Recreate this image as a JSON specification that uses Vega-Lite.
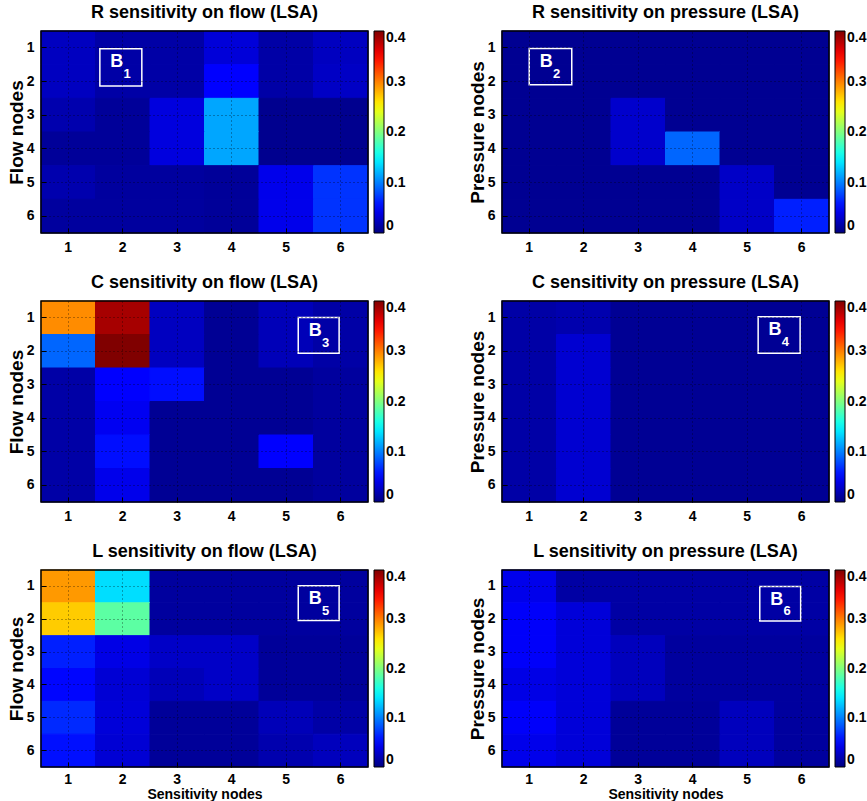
{
  "$schema": "https://vega.github.io/schema/vega-lite/v6.json",
  "padding": {"left": 7, "top": 4, "right": 0, "bottom": 0},
  "background": "white",
  "config": {
    "font": "Liberation Sans",
    "view": {"stroke": null},
    "title": {"fontSize": 18, "fontWeight": "bold", "font": "Liberation Sans", "frame": "group", "offset": 8, "color": "black"},
    "axis": {"labelFont": "Liberation Sans", "labelFontSize": 14, "labelFontWeight": "bold", "labelColor": "black", "titleFont": "Liberation Sans", "titleFontWeight": "bold", "titleColor": "black", "domain": false, "ticks": true, "tickColor": "black", "tickSize": -5, "labelAngle": 0, "grid": true, "gridDash": [1, 3], "gridColor": "black", "gridOpacity": 0.6, "bandPosition": 0.5, "zindex": 1},
    "axisX": {"labelPadding": 12},
    "axisY": {"labelPadding": 12, "titleFontSize": 19, "titlePadding": 0},
    "legend": {"labelFont": "Liberation Sans", "labelFontSize": 14, "labelFontWeight": "bold", "labelColor": "black", "orient": "right", "offset": 6, "gradientThickness": 10, "gradientStrokeColor": "black", "gradientStrokeWidth": 1, "labelOffset": 2, "padding": 0},
    "rect": {"strokeWidth": 1}
  },
  "datasets": {
    "sens": [
      {"panel": "R_flow", "node": 1, "sens": 1, "value": 0.025}, {"panel": "R_flow", "node": 1, "sens": 2, "value": 0.015}, {"panel": "R_flow", "node": 1, "sens": 3, "value": 0.015}, {"panel": "R_flow", "node": 1, "sens": 4, "value": 0.035}, {"panel": "R_flow", "node": 1, "sens": 5, "value": 0.015}, {"panel": "R_flow", "node": 1, "sens": 6, "value": 0.025},
      {"panel": "R_flow", "node": 2, "sens": 1, "value": 0.025}, {"panel": "R_flow", "node": 2, "sens": 2, "value": 0.015}, {"panel": "R_flow", "node": 2, "sens": 3, "value": 0.015}, {"panel": "R_flow", "node": 2, "sens": 4, "value": 0.05}, {"panel": "R_flow", "node": 2, "sens": 5, "value": 0.015}, {"panel": "R_flow", "node": 2, "sens": 6, "value": 0.027},
      {"panel": "R_flow", "node": 3, "sens": 1, "value": 0.018}, {"panel": "R_flow", "node": 3, "sens": 2, "value": 0.01}, {"panel": "R_flow", "node": 3, "sens": 3, "value": 0.037}, {"panel": "R_flow", "node": 3, "sens": 4, "value": 0.115}, {"panel": "R_flow", "node": 3, "sens": 5, "value": 0.006}, {"panel": "R_flow", "node": 3, "sens": 6, "value": 0.006},
      {"panel": "R_flow", "node": 4, "sens": 1, "value": 0.01}, {"panel": "R_flow", "node": 4, "sens": 2, "value": 0.01}, {"panel": "R_flow", "node": 4, "sens": 3, "value": 0.037}, {"panel": "R_flow", "node": 4, "sens": 4, "value": 0.115}, {"panel": "R_flow", "node": 4, "sens": 5, "value": 0.006}, {"panel": "R_flow", "node": 4, "sens": 6, "value": 0.006},
      {"panel": "R_flow", "node": 5, "sens": 1, "value": 0.018}, {"panel": "R_flow", "node": 5, "sens": 2, "value": 0.012}, {"panel": "R_flow", "node": 5, "sens": 3, "value": 0.012}, {"panel": "R_flow", "node": 5, "sens": 4, "value": 0.01}, {"panel": "R_flow", "node": 5, "sens": 5, "value": 0.042}, {"panel": "R_flow", "node": 5, "sens": 6, "value": 0.07},
      {"panel": "R_flow", "node": 6, "sens": 1, "value": 0.012}, {"panel": "R_flow", "node": 6, "sens": 2, "value": 0.012}, {"panel": "R_flow", "node": 6, "sens": 3, "value": 0.012}, {"panel": "R_flow", "node": 6, "sens": 4, "value": 0.01}, {"panel": "R_flow", "node": 6, "sens": 5, "value": 0.042}, {"panel": "R_flow", "node": 6, "sens": 6, "value": 0.07},

      {"panel": "R_pres", "node": 1, "sens": 1, "value": 0.007}, {"panel": "R_pres", "node": 1, "sens": 2, "value": 0.007}, {"panel": "R_pres", "node": 1, "sens": 3, "value": 0.007}, {"panel": "R_pres", "node": 1, "sens": 4, "value": 0.007}, {"panel": "R_pres", "node": 1, "sens": 5, "value": 0.007}, {"panel": "R_pres", "node": 1, "sens": 6, "value": 0.007},
      {"panel": "R_pres", "node": 2, "sens": 1, "value": 0.007}, {"panel": "R_pres", "node": 2, "sens": 2, "value": 0.007}, {"panel": "R_pres", "node": 2, "sens": 3, "value": 0.007}, {"panel": "R_pres", "node": 2, "sens": 4, "value": 0.007}, {"panel": "R_pres", "node": 2, "sens": 5, "value": 0.007}, {"panel": "R_pres", "node": 2, "sens": 6, "value": 0.007},
      {"panel": "R_pres", "node": 3, "sens": 1, "value": 0.007}, {"panel": "R_pres", "node": 3, "sens": 2, "value": 0.007}, {"panel": "R_pres", "node": 3, "sens": 3, "value": 0.03}, {"panel": "R_pres", "node": 3, "sens": 4, "value": 0.007}, {"panel": "R_pres", "node": 3, "sens": 5, "value": 0.007}, {"panel": "R_pres", "node": 3, "sens": 6, "value": 0.007},
      {"panel": "R_pres", "node": 4, "sens": 1, "value": 0.007}, {"panel": "R_pres", "node": 4, "sens": 2, "value": 0.007}, {"panel": "R_pres", "node": 4, "sens": 3, "value": 0.03}, {"panel": "R_pres", "node": 4, "sens": 4, "value": 0.09}, {"panel": "R_pres", "node": 4, "sens": 5, "value": 0.007}, {"panel": "R_pres", "node": 4, "sens": 6, "value": 0.007},
      {"panel": "R_pres", "node": 5, "sens": 1, "value": 0.007}, {"panel": "R_pres", "node": 5, "sens": 2, "value": 0.007}, {"panel": "R_pres", "node": 5, "sens": 3, "value": 0.007}, {"panel": "R_pres", "node": 5, "sens": 4, "value": 0.007}, {"panel": "R_pres", "node": 5, "sens": 5, "value": 0.028}, {"panel": "R_pres", "node": 5, "sens": 6, "value": 0.007},
      {"panel": "R_pres", "node": 6, "sens": 1, "value": 0.007}, {"panel": "R_pres", "node": 6, "sens": 2, "value": 0.007}, {"panel": "R_pres", "node": 6, "sens": 3, "value": 0.007}, {"panel": "R_pres", "node": 6, "sens": 4, "value": 0.007}, {"panel": "R_pres", "node": 6, "sens": 5, "value": 0.028}, {"panel": "R_pres", "node": 6, "sens": 6, "value": 0.062},

      {"panel": "C_flow", "node": 1, "sens": 1, "value": 0.295}, {"panel": "C_flow", "node": 1, "sens": 2, "value": 0.385}, {"panel": "C_flow", "node": 1, "sens": 3, "value": 0.025}, {"panel": "C_flow", "node": 1, "sens": 4, "value": 0.008}, {"panel": "C_flow", "node": 1, "sens": 5, "value": 0.022}, {"panel": "C_flow", "node": 1, "sens": 6, "value": 0.015},
      {"panel": "C_flow", "node": 2, "sens": 1, "value": 0.09}, {"panel": "C_flow", "node": 2, "sens": 2, "value": 0.4}, {"panel": "C_flow", "node": 2, "sens": 3, "value": 0.025}, {"panel": "C_flow", "node": 2, "sens": 4, "value": 0.008}, {"panel": "C_flow", "node": 2, "sens": 5, "value": 0.022}, {"panel": "C_flow", "node": 2, "sens": 6, "value": 0.015},
      {"panel": "C_flow", "node": 3, "sens": 1, "value": 0.015}, {"panel": "C_flow", "node": 3, "sens": 2, "value": 0.05}, {"panel": "C_flow", "node": 3, "sens": 3, "value": 0.055}, {"panel": "C_flow", "node": 3, "sens": 4, "value": 0.008}, {"panel": "C_flow", "node": 3, "sens": 5, "value": 0.008}, {"panel": "C_flow", "node": 3, "sens": 6, "value": 0.012},
      {"panel": "C_flow", "node": 4, "sens": 1, "value": 0.015}, {"panel": "C_flow", "node": 4, "sens": 2, "value": 0.045}, {"panel": "C_flow", "node": 4, "sens": 3, "value": 0.008}, {"panel": "C_flow", "node": 4, "sens": 4, "value": 0.008}, {"panel": "C_flow", "node": 4, "sens": 5, "value": 0.008}, {"panel": "C_flow", "node": 4, "sens": 6, "value": 0.012},
      {"panel": "C_flow", "node": 5, "sens": 1, "value": 0.015}, {"panel": "C_flow", "node": 5, "sens": 2, "value": 0.055}, {"panel": "C_flow", "node": 5, "sens": 3, "value": 0.008}, {"panel": "C_flow", "node": 5, "sens": 4, "value": 0.008}, {"panel": "C_flow", "node": 5, "sens": 5, "value": 0.05}, {"panel": "C_flow", "node": 5, "sens": 6, "value": 0.012},
      {"panel": "C_flow", "node": 6, "sens": 1, "value": 0.015}, {"panel": "C_flow", "node": 6, "sens": 2, "value": 0.042}, {"panel": "C_flow", "node": 6, "sens": 3, "value": 0.008}, {"panel": "C_flow", "node": 6, "sens": 4, "value": 0.008}, {"panel": "C_flow", "node": 6, "sens": 5, "value": 0.008}, {"panel": "C_flow", "node": 6, "sens": 6, "value": 0.012},

      {"panel": "C_pres", "node": 1, "sens": 1, "value": 0.015}, {"panel": "C_pres", "node": 1, "sens": 2, "value": 0.018}, {"panel": "C_pres", "node": 1, "sens": 3, "value": 0.008}, {"panel": "C_pres", "node": 1, "sens": 4, "value": 0.008}, {"panel": "C_pres", "node": 1, "sens": 5, "value": 0.008}, {"panel": "C_pres", "node": 1, "sens": 6, "value": 0.008},
      {"panel": "C_pres", "node": 2, "sens": 1, "value": 0.015}, {"panel": "C_pres", "node": 2, "sens": 2, "value": 0.032}, {"panel": "C_pres", "node": 2, "sens": 3, "value": 0.008}, {"panel": "C_pres", "node": 2, "sens": 4, "value": 0.008}, {"panel": "C_pres", "node": 2, "sens": 5, "value": 0.008}, {"panel": "C_pres", "node": 2, "sens": 6, "value": 0.008},
      {"panel": "C_pres", "node": 3, "sens": 1, "value": 0.015}, {"panel": "C_pres", "node": 3, "sens": 2, "value": 0.032}, {"panel": "C_pres", "node": 3, "sens": 3, "value": 0.008}, {"panel": "C_pres", "node": 3, "sens": 4, "value": 0.008}, {"panel": "C_pres", "node": 3, "sens": 5, "value": 0.008}, {"panel": "C_pres", "node": 3, "sens": 6, "value": 0.008},
      {"panel": "C_pres", "node": 4, "sens": 1, "value": 0.015}, {"panel": "C_pres", "node": 4, "sens": 2, "value": 0.032}, {"panel": "C_pres", "node": 4, "sens": 3, "value": 0.008}, {"panel": "C_pres", "node": 4, "sens": 4, "value": 0.008}, {"panel": "C_pres", "node": 4, "sens": 5, "value": 0.008}, {"panel": "C_pres", "node": 4, "sens": 6, "value": 0.008},
      {"panel": "C_pres", "node": 5, "sens": 1, "value": 0.015}, {"panel": "C_pres", "node": 5, "sens": 2, "value": 0.032}, {"panel": "C_pres", "node": 5, "sens": 3, "value": 0.008}, {"panel": "C_pres", "node": 5, "sens": 4, "value": 0.008}, {"panel": "C_pres", "node": 5, "sens": 5, "value": 0.008}, {"panel": "C_pres", "node": 5, "sens": 6, "value": 0.008},
      {"panel": "C_pres", "node": 6, "sens": 1, "value": 0.015}, {"panel": "C_pres", "node": 6, "sens": 2, "value": 0.032}, {"panel": "C_pres", "node": 6, "sens": 3, "value": 0.008}, {"panel": "C_pres", "node": 6, "sens": 4, "value": 0.008}, {"panel": "C_pres", "node": 6, "sens": 5, "value": 0.008}, {"panel": "C_pres", "node": 6, "sens": 6, "value": 0.008},

      {"panel": "L_flow", "node": 1, "sens": 1, "value": 0.29}, {"panel": "L_flow", "node": 1, "sens": 2, "value": 0.137}, {"panel": "L_flow", "node": 1, "sens": 3, "value": 0.012}, {"panel": "L_flow", "node": 1, "sens": 4, "value": 0.012}, {"panel": "L_flow", "node": 1, "sens": 5, "value": 0.012}, {"panel": "L_flow", "node": 1, "sens": 6, "value": 0.012},
      {"panel": "L_flow", "node": 2, "sens": 1, "value": 0.27}, {"panel": "L_flow", "node": 2, "sens": 2, "value": 0.186}, {"panel": "L_flow", "node": 2, "sens": 3, "value": 0.012}, {"panel": "L_flow", "node": 2, "sens": 4, "value": 0.012}, {"panel": "L_flow", "node": 2, "sens": 5, "value": 0.012}, {"panel": "L_flow", "node": 2, "sens": 6, "value": 0.012},
      {"panel": "L_flow", "node": 3, "sens": 1, "value": 0.062}, {"panel": "L_flow", "node": 3, "sens": 2, "value": 0.04}, {"panel": "L_flow", "node": 3, "sens": 3, "value": 0.028}, {"panel": "L_flow", "node": 3, "sens": 4, "value": 0.028}, {"panel": "L_flow", "node": 3, "sens": 5, "value": 0.01}, {"panel": "L_flow", "node": 3, "sens": 6, "value": 0.01},
      {"panel": "L_flow", "node": 4, "sens": 1, "value": 0.052}, {"panel": "L_flow", "node": 4, "sens": 2, "value": 0.033}, {"panel": "L_flow", "node": 4, "sens": 3, "value": 0.022}, {"panel": "L_flow", "node": 4, "sens": 4, "value": 0.028}, {"panel": "L_flow", "node": 4, "sens": 5, "value": 0.01}, {"panel": "L_flow", "node": 4, "sens": 6, "value": 0.01},
      {"panel": "L_flow", "node": 5, "sens": 1, "value": 0.066}, {"panel": "L_flow", "node": 5, "sens": 2, "value": 0.035}, {"panel": "L_flow", "node": 5, "sens": 3, "value": 0.01}, {"panel": "L_flow", "node": 5, "sens": 4, "value": 0.01}, {"panel": "L_flow", "node": 5, "sens": 5, "value": 0.022}, {"panel": "L_flow", "node": 5, "sens": 6, "value": 0.015},
      {"panel": "L_flow", "node": 6, "sens": 1, "value": 0.056}, {"panel": "L_flow", "node": 6, "sens": 2, "value": 0.033}, {"panel": "L_flow", "node": 6, "sens": 3, "value": 0.01}, {"panel": "L_flow", "node": 6, "sens": 4, "value": 0.01}, {"panel": "L_flow", "node": 6, "sens": 5, "value": 0.018}, {"panel": "L_flow", "node": 6, "sens": 6, "value": 0.024},

      {"panel": "L_pres", "node": 1, "sens": 1, "value": 0.042}, {"panel": "L_pres", "node": 1, "sens": 2, "value": 0.014}, {"panel": "L_pres", "node": 1, "sens": 3, "value": 0.014}, {"panel": "L_pres", "node": 1, "sens": 4, "value": 0.014}, {"panel": "L_pres", "node": 1, "sens": 5, "value": 0.014}, {"panel": "L_pres", "node": 1, "sens": 6, "value": 0.014},
      {"panel": "L_pres", "node": 2, "sens": 1, "value": 0.048}, {"panel": "L_pres", "node": 2, "sens": 2, "value": 0.035}, {"panel": "L_pres", "node": 2, "sens": 3, "value": 0.014}, {"panel": "L_pres", "node": 2, "sens": 4, "value": 0.014}, {"panel": "L_pres", "node": 2, "sens": 5, "value": 0.014}, {"panel": "L_pres", "node": 2, "sens": 6, "value": 0.014},
      {"panel": "L_pres", "node": 3, "sens": 1, "value": 0.048}, {"panel": "L_pres", "node": 3, "sens": 2, "value": 0.035}, {"panel": "L_pres", "node": 3, "sens": 3, "value": 0.024}, {"panel": "L_pres", "node": 3, "sens": 4, "value": 0.012}, {"panel": "L_pres", "node": 3, "sens": 5, "value": 0.012}, {"panel": "L_pres", "node": 3, "sens": 6, "value": 0.012},
      {"panel": "L_pres", "node": 4, "sens": 1, "value": 0.04}, {"panel": "L_pres", "node": 4, "sens": 2, "value": 0.035}, {"panel": "L_pres", "node": 4, "sens": 3, "value": 0.024}, {"panel": "L_pres", "node": 4, "sens": 4, "value": 0.012}, {"panel": "L_pres", "node": 4, "sens": 5, "value": 0.012}, {"panel": "L_pres", "node": 4, "sens": 6, "value": 0.012},
      {"panel": "L_pres", "node": 5, "sens": 1, "value": 0.048}, {"panel": "L_pres", "node": 5, "sens": 2, "value": 0.035}, {"panel": "L_pres", "node": 5, "sens": 3, "value": 0.01}, {"panel": "L_pres", "node": 5, "sens": 4, "value": 0.01}, {"panel": "L_pres", "node": 5, "sens": 5, "value": 0.024}, {"panel": "L_pres", "node": 5, "sens": 6, "value": 0.012},
      {"panel": "L_pres", "node": 6, "sens": 1, "value": 0.042}, {"panel": "L_pres", "node": 6, "sens": 2, "value": 0.035}, {"panel": "L_pres", "node": 6, "sens": 3, "value": 0.01}, {"panel": "L_pres", "node": 6, "sens": 4, "value": 0.01}, {"panel": "L_pres", "node": 6, "sens": 5, "value": 0.024}, {"panel": "L_pres", "node": 6, "sens": 6, "value": 0.012}
    ]
  },
  "resolve": {"scale": {"color": "independent"}, "legend": {"color": "independent"}},
  "spacing": 20,
  "vconcat": [
    {
      "hconcat": [
        {
          "title": "R sensitivity on flow (LSA)",
          "width": 327, "height": 202,
          "resolve": {"scale": {"x": "independent", "y": "independent"}},
          "layer": [
            {"data": {"name": "sens"}, "transform": [{"filter": "datum.panel === 'R_flow'"}], "mark": "rect",
             "encoding": {
               "x": {"field": "sens", "type": "ordinal", "scale": {"paddingInner": 0, "paddingOuter": 0}, "axis": {"title": null, "grid": true, "zindex": 1}},
               "y": {"field": "node", "type": "ordinal", "scale": {"paddingInner": 0, "paddingOuter": 0}, "axis": {"title": "Flow nodes", "grid": true, "zindex": 1}},
               "color": {"field": "value", "type": "quantitative", "scale": {"domain": [0, 0.05, 0.15, 0.25, 0.35, 0.4], "range": ["#000080", "#0000ff", "#00ffff", "#ffff00", "#ff0000", "#800000"], "interpolate": "rgb"}, "legend": {"title": null, "gradientLength": 202, "values": [0, 0.1, 0.2, 0.3, 0.4], "labelExpr": "datum.value === 0 ? '0' : format(datum.value, '.1f')"}},
               "stroke": {"field": "value", "type": "quantitative", "scale": {"domain": [0, 0.05, 0.15, 0.25, 0.35, 0.4], "range": ["#000080", "#0000ff", "#00ffff", "#ffff00", "#ff0000", "#800000"], "interpolate": "rgb"}, "legend": null}
             }},
            {"data": {"values": [{"letter": "B", "sub": "1"}]},
             "layer": [
               {"mark": {"type": "rect", "fill": null, "stroke": "black", "strokeWidth": 1.5}, "encoding": {"x": {"datum": 0.5, "type": "quantitative", "scale": {"domain": [0.5, 6.5], "nice": false, "zero": false}, "axis": null}, "x2": {"datum": 6.5}, "y": {"datum": 0.5, "type": "quantitative", "scale": {"domain": [0.5, 6.5], "nice": false, "zero": false, "reverse": true}, "axis": null}, "y2": {"datum": 6.5}}},
               {"mark": {"type": "rect", "fill": null, "stroke": "white", "strokeWidth": 1.5}, "encoding": {"x": {"datum": 1.58, "type": "quantitative"}, "x2": {"datum": 2.35}, "y": {"datum": 1.03, "type": "quantitative"}, "y2": {"datum": 2.13}}},
               {"mark": {"type": "text", "color": "white", "fontSize": 18, "fontWeight": "bold", "align": "center", "baseline": "middle"}, "encoding": {"x": {"datum": 1.89, "type": "quantitative"}, "y": {"datum": 1.43, "type": "quantitative"}, "text": {"field": "letter"}}},
               {"mark": {"type": "text", "color": "white", "fontSize": 13, "fontWeight": "bold", "align": "center", "baseline": "middle"}, "encoding": {"x": {"datum": 2.08, "type": "quantitative"}, "y": {"datum": 1.79, "type": "quantitative"}, "text": {"field": "sub"}}}
             ]}
          ]
        },
        {
          "title": "R sensitivity on pressure (LSA)",
          "width": 327, "height": 202,
          "resolve": {"scale": {"x": "independent", "y": "independent"}},
          "layer": [
            {"data": {"name": "sens"}, "transform": [{"filter": "datum.panel === 'R_pres'"}], "mark": "rect",
             "encoding": {
               "x": {"field": "sens", "type": "ordinal", "scale": {"paddingInner": 0, "paddingOuter": 0}, "axis": {"title": null, "grid": true, "zindex": 1}},
               "y": {"field": "node", "type": "ordinal", "scale": {"paddingInner": 0, "paddingOuter": 0}, "axis": {"title": "Pressure nodes", "grid": true, "zindex": 1}},
               "color": {"field": "value", "type": "quantitative", "scale": {"domain": [0, 0.05, 0.15, 0.25, 0.35, 0.4], "range": ["#000080", "#0000ff", "#00ffff", "#ffff00", "#ff0000", "#800000"], "interpolate": "rgb"}, "legend": {"title": null, "gradientLength": 202, "values": [0, 0.1, 0.2, 0.3, 0.4], "labelExpr": "datum.value === 0 ? '0' : format(datum.value, '.1f')"}},
               "stroke": {"field": "value", "type": "quantitative", "scale": {"domain": [0, 0.05, 0.15, 0.25, 0.35, 0.4], "range": ["#000080", "#0000ff", "#00ffff", "#ffff00", "#ff0000", "#800000"], "interpolate": "rgb"}, "legend": null}
             }},
            {"data": {"values": [{"letter": "B", "sub": "2"}]},
             "layer": [
               {"mark": {"type": "rect", "fill": null, "stroke": "black", "strokeWidth": 1.5}, "encoding": {"x": {"datum": 0.5, "type": "quantitative", "scale": {"domain": [0.5, 6.5], "nice": false, "zero": false}, "axis": null}, "x2": {"datum": 6.5}, "y": {"datum": 0.5, "type": "quantitative", "scale": {"domain": [0.5, 6.5], "nice": false, "zero": false, "reverse": true}, "axis": null}, "y2": {"datum": 6.5}}},
               {"mark": {"type": "rect", "fill": null, "stroke": "white", "strokeWidth": 1.5}, "encoding": {"x": {"datum": 1.0, "type": "quantitative"}, "x2": {"datum": 1.78}, "y": {"datum": 1.02, "type": "quantitative"}, "y2": {"datum": 2.1}}},
               {"mark": {"type": "text", "color": "white", "fontSize": 18, "fontWeight": "bold", "align": "center", "baseline": "middle"}, "encoding": {"x": {"datum": 1.31, "type": "quantitative"}, "y": {"datum": 1.42, "type": "quantitative"}, "text": {"field": "letter"}}},
               {"mark": {"type": "text", "color": "white", "fontSize": 13, "fontWeight": "bold", "align": "center", "baseline": "middle"}, "encoding": {"x": {"datum": 1.5, "type": "quantitative"}, "y": {"datum": 1.78, "type": "quantitative"}, "text": {"field": "sub"}}}
             ]}
          ]
        }
      ],
      "spacing": 62,
      "resolve": {"scale": {"color": "independent"}, "legend": {"color": "independent"}}
    },
    {
      "hconcat": [
        {
          "title": "C sensitivity on flow (LSA)",
          "width": 327, "height": 201,
          "resolve": {"scale": {"x": "independent", "y": "independent"}},
          "layer": [
            {"data": {"name": "sens"}, "transform": [{"filter": "datum.panel === 'C_flow'"}], "mark": "rect",
             "encoding": {
               "x": {"field": "sens", "type": "ordinal", "scale": {"paddingInner": 0, "paddingOuter": 0}, "axis": {"title": null, "grid": true, "zindex": 1}},
               "y": {"field": "node", "type": "ordinal", "scale": {"paddingInner": 0, "paddingOuter": 0}, "axis": {"title": "Flow nodes", "grid": true, "zindex": 1}},
               "color": {"field": "value", "type": "quantitative", "scale": {"domain": [0, 0.05, 0.15, 0.25, 0.35, 0.4], "range": ["#000080", "#0000ff", "#00ffff", "#ffff00", "#ff0000", "#800000"], "interpolate": "rgb"}, "legend": {"title": null, "gradientLength": 201, "values": [0, 0.1, 0.2, 0.3, 0.4], "labelExpr": "datum.value === 0 ? '0' : format(datum.value, '.1f')"}},
               "stroke": {"field": "value", "type": "quantitative", "scale": {"domain": [0, 0.05, 0.15, 0.25, 0.35, 0.4], "range": ["#000080", "#0000ff", "#00ffff", "#ffff00", "#ff0000", "#800000"], "interpolate": "rgb"}, "legend": null}
             }},
            {"data": {"values": [{"letter": "B", "sub": "3"}]},
             "layer": [
               {"mark": {"type": "rect", "fill": null, "stroke": "black", "strokeWidth": 1.5}, "encoding": {"x": {"datum": 0.5, "type": "quantitative", "scale": {"domain": [0.5, 6.5], "nice": false, "zero": false}, "axis": null}, "x2": {"datum": 6.5}, "y": {"datum": 0.5, "type": "quantitative", "scale": {"domain": [0.5, 6.5], "nice": false, "zero": false, "reverse": true}, "axis": null}, "y2": {"datum": 6.5}}},
               {"mark": {"type": "rect", "fill": null, "stroke": "white", "strokeWidth": 1.5}, "encoding": {"x": {"datum": 5.22, "type": "quantitative"}, "x2": {"datum": 5.97}, "y": {"datum": 0.99, "type": "quantitative"}, "y2": {"datum": 2.06}}},
               {"mark": {"type": "text", "color": "white", "fontSize": 18, "fontWeight": "bold", "align": "center", "baseline": "middle"}, "encoding": {"x": {"datum": 5.53, "type": "quantitative"}, "y": {"datum": 1.39, "type": "quantitative"}, "text": {"field": "letter"}}},
               {"mark": {"type": "text", "color": "white", "fontSize": 13, "fontWeight": "bold", "align": "center", "baseline": "middle"}, "encoding": {"x": {"datum": 5.72, "type": "quantitative"}, "y": {"datum": 1.75, "type": "quantitative"}, "text": {"field": "sub"}}}
             ]}
          ]
        },
        {
          "title": "C sensitivity on pressure (LSA)",
          "width": 327, "height": 201,
          "resolve": {"scale": {"x": "independent", "y": "independent"}},
          "layer": [
            {"data": {"name": "sens"}, "transform": [{"filter": "datum.panel === 'C_pres'"}], "mark": "rect",
             "encoding": {
               "x": {"field": "sens", "type": "ordinal", "scale": {"paddingInner": 0, "paddingOuter": 0}, "axis": {"title": null, "grid": true, "zindex": 1}},
               "y": {"field": "node", "type": "ordinal", "scale": {"paddingInner": 0, "paddingOuter": 0}, "axis": {"title": "Pressure nodes", "grid": true, "zindex": 1}},
               "color": {"field": "value", "type": "quantitative", "scale": {"domain": [0, 0.05, 0.15, 0.25, 0.35, 0.4], "range": ["#000080", "#0000ff", "#00ffff", "#ffff00", "#ff0000", "#800000"], "interpolate": "rgb"}, "legend": {"title": null, "gradientLength": 201, "values": [0, 0.1, 0.2, 0.3, 0.4], "labelExpr": "datum.value === 0 ? '0' : format(datum.value, '.1f')"}},
               "stroke": {"field": "value", "type": "quantitative", "scale": {"domain": [0, 0.05, 0.15, 0.25, 0.35, 0.4], "range": ["#000080", "#0000ff", "#00ffff", "#ffff00", "#ff0000", "#800000"], "interpolate": "rgb"}, "legend": null}
             }},
            {"data": {"values": [{"letter": "B", "sub": "4"}]},
             "layer": [
               {"mark": {"type": "rect", "fill": null, "stroke": "black", "strokeWidth": 1.5}, "encoding": {"x": {"datum": 0.5, "type": "quantitative", "scale": {"domain": [0.5, 6.5], "nice": false, "zero": false}, "axis": null}, "x2": {"datum": 6.5}, "y": {"datum": 0.5, "type": "quantitative", "scale": {"domain": [0.5, 6.5], "nice": false, "zero": false, "reverse": true}, "axis": null}, "y2": {"datum": 6.5}}},
               {"mark": {"type": "rect", "fill": null, "stroke": "white", "strokeWidth": 1.5}, "encoding": {"x": {"datum": 5.2, "type": "quantitative"}, "x2": {"datum": 5.97}, "y": {"datum": 0.97, "type": "quantitative"}, "y2": {"datum": 2.06}}},
               {"mark": {"type": "text", "color": "white", "fontSize": 18, "fontWeight": "bold", "align": "center", "baseline": "middle"}, "encoding": {"x": {"datum": 5.51, "type": "quantitative"}, "y": {"datum": 1.37, "type": "quantitative"}, "text": {"field": "letter"}}},
               {"mark": {"type": "text", "color": "white", "fontSize": 13, "fontWeight": "bold", "align": "center", "baseline": "middle"}, "encoding": {"x": {"datum": 5.7, "type": "quantitative"}, "y": {"datum": 1.73, "type": "quantitative"}, "text": {"field": "sub"}}}
             ]}
          ]
        }
      ],
      "spacing": 62,
      "resolve": {"scale": {"color": "independent"}, "legend": {"color": "independent"}}
    },
    {
      "hconcat": [
        {
          "title": "L sensitivity on flow (LSA)",
          "width": 327, "height": 197,
          "resolve": {"scale": {"x": "independent", "y": "independent"}},
          "layer": [
            {"data": {"name": "sens"}, "transform": [{"filter": "datum.panel === 'L_flow'"}], "mark": "rect",
             "encoding": {
               "x": {"field": "sens", "type": "ordinal", "scale": {"paddingInner": 0, "paddingOuter": 0}, "axis": {"title": "Sensitivity nodes", "titleFontSize": 14, "titlePadding": 1, "labelPadding": 10, "grid": true, "zindex": 1}},
               "y": {"field": "node", "type": "ordinal", "scale": {"paddingInner": 0, "paddingOuter": 0}, "axis": {"title": "Flow nodes", "grid": true, "zindex": 1}},
               "color": {"field": "value", "type": "quantitative", "scale": {"domain": [0, 0.05, 0.15, 0.25, 0.35, 0.4], "range": ["#000080", "#0000ff", "#00ffff", "#ffff00", "#ff0000", "#800000"], "interpolate": "rgb"}, "legend": {"title": null, "gradientLength": 197, "values": [0, 0.1, 0.2, 0.3, 0.4], "labelExpr": "datum.value === 0 ? '0' : format(datum.value, '.1f')"}},
               "stroke": {"field": "value", "type": "quantitative", "scale": {"domain": [0, 0.05, 0.15, 0.25, 0.35, 0.4], "range": ["#000080", "#0000ff", "#00ffff", "#ffff00", "#ff0000", "#800000"], "interpolate": "rgb"}, "legend": null}
             }},
            {"data": {"values": [{"letter": "B", "sub": "5"}]},
             "layer": [
               {"mark": {"type": "rect", "fill": null, "stroke": "black", "strokeWidth": 1.5}, "encoding": {"x": {"datum": 0.5, "type": "quantitative", "scale": {"domain": [0.5, 6.5], "nice": false, "zero": false}, "axis": null}, "x2": {"datum": 6.5}, "y": {"datum": 0.5, "type": "quantitative", "scale": {"domain": [0.5, 6.5], "nice": false, "zero": false, "reverse": true}, "axis": null}, "y2": {"datum": 6.5}}},
               {"mark": {"type": "rect", "fill": null, "stroke": "white", "strokeWidth": 1.5}, "encoding": {"x": {"datum": 5.22, "type": "quantitative"}, "x2": {"datum": 5.97}, "y": {"datum": 0.98, "type": "quantitative"}, "y2": {"datum": 2.04}}},
               {"mark": {"type": "text", "color": "white", "fontSize": 18, "fontWeight": "bold", "align": "center", "baseline": "middle"}, "encoding": {"x": {"datum": 5.53, "type": "quantitative"}, "y": {"datum": 1.38, "type": "quantitative"}, "text": {"field": "letter"}}},
               {"mark": {"type": "text", "color": "white", "fontSize": 13, "fontWeight": "bold", "align": "center", "baseline": "middle"}, "encoding": {"x": {"datum": 5.72, "type": "quantitative"}, "y": {"datum": 1.74, "type": "quantitative"}, "text": {"field": "sub"}}}
             ]}
          ]
        },
        {
          "title": "L sensitivity on pressure (LSA)",
          "width": 327, "height": 197,
          "resolve": {"scale": {"x": "independent", "y": "independent"}},
          "layer": [
            {"data": {"name": "sens"}, "transform": [{"filter": "datum.panel === 'L_pres'"}], "mark": "rect",
             "encoding": {
               "x": {"field": "sens", "type": "ordinal", "scale": {"paddingInner": 0, "paddingOuter": 0}, "axis": {"title": "Sensitivity nodes", "titleFontSize": 14, "titlePadding": 1, "labelPadding": 10, "grid": true, "zindex": 1}},
               "y": {"field": "node", "type": "ordinal", "scale": {"paddingInner": 0, "paddingOuter": 0}, "axis": {"title": "Pressure nodes", "grid": true, "zindex": 1}},
               "color": {"field": "value", "type": "quantitative", "scale": {"domain": [0, 0.05, 0.15, 0.25, 0.35, 0.4], "range": ["#000080", "#0000ff", "#00ffff", "#ffff00", "#ff0000", "#800000"], "interpolate": "rgb"}, "legend": {"title": null, "gradientLength": 197, "values": [0, 0.1, 0.2, 0.3, 0.4], "labelExpr": "datum.value === 0 ? '0' : format(datum.value, '.1f')"}},
               "stroke": {"field": "value", "type": "quantitative", "scale": {"domain": [0, 0.05, 0.15, 0.25, 0.35, 0.4], "range": ["#000080", "#0000ff", "#00ffff", "#ffff00", "#ff0000", "#800000"], "interpolate": "rgb"}, "legend": null}
             }},
            {"data": {"values": [{"letter": "B", "sub": "6"}]},
             "layer": [
               {"mark": {"type": "rect", "fill": null, "stroke": "black", "strokeWidth": 1.5}, "encoding": {"x": {"datum": 0.5, "type": "quantitative", "scale": {"domain": [0.5, 6.5], "nice": false, "zero": false}, "axis": null}, "x2": {"datum": 6.5}, "y": {"datum": 0.5, "type": "quantitative", "scale": {"domain": [0.5, 6.5], "nice": false, "zero": false, "reverse": true}, "axis": null}, "y2": {"datum": 6.5}}},
               {"mark": {"type": "rect", "fill": null, "stroke": "white", "strokeWidth": 1.5}, "encoding": {"x": {"datum": 5.23, "type": "quantitative"}, "x2": {"datum": 5.98}, "y": {"datum": 1.0, "type": "quantitative"}, "y2": {"datum": 2.05}}},
               {"mark": {"type": "text", "color": "white", "fontSize": 18, "fontWeight": "bold", "align": "center", "baseline": "middle"}, "encoding": {"x": {"datum": 5.54, "type": "quantitative"}, "y": {"datum": 1.4, "type": "quantitative"}, "text": {"field": "letter"}}},
               {"mark": {"type": "text", "color": "white", "fontSize": 13, "fontWeight": "bold", "align": "center", "baseline": "middle"}, "encoding": {"x": {"datum": 5.73, "type": "quantitative"}, "y": {"datum": 1.76, "type": "quantitative"}, "text": {"field": "sub"}}}
             ]}
          ]
        }
      ],
      "spacing": 62,
      "resolve": {"scale": {"color": "independent"}, "legend": {"color": "independent"}}
    }
  ]
}
